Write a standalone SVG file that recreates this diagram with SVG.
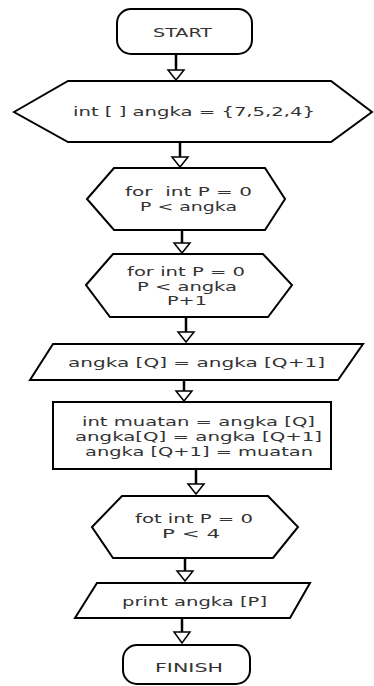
<svg xmlns="http://www.w3.org/2000/svg" width="374" height="686" viewBox="0 0 374 686">
<style>
.s{fill:#fff;stroke:#000;stroke-width:2}
.t{font-family:"DejaVu Sans",Verdana,sans-serif;font-size:12px;fill:#333;text-anchor:middle}
.c{stroke:#000;stroke-width:2.5;fill:none}
.h{fill:#fff;stroke:#000;stroke-width:1.5}
</style>
<rect width="374" height="686" fill="#fff"/>
<g id="connectors">
<line class="c" x1="176" y1="54" x2="176" y2="70"/><polygon class="h" points="168,70 184,70 176,80"/>
<line class="c" x1="180" y1="142" x2="180" y2="157"/><polygon class="h" points="172,157 188,157 180,167"/>
<line class="c" x1="182" y1="230" x2="182" y2="243"/><polygon class="h" points="174,243 190,243 182,253"/>
<line class="c" x1="186" y1="317" x2="186" y2="332"/><polygon class="h" points="178,332 194,332 186,342"/>
<line class="c" x1="184" y1="380" x2="184" y2="391"/><polygon class="h" points="176,391 192,391 184,401"/>
<line class="c" x1="196" y1="469" x2="196" y2="484"/><polygon class="h" points="188,484 204,484 196,494"/>
<line class="c" x1="185" y1="558" x2="185" y2="571"/><polygon class="h" points="177,571 193,571 185,581"/>
<line class="c" x1="182" y1="618" x2="182" y2="632"/><polygon class="h" points="174,632 190,632 182,643"/>
</g>
<g id="start"><rect class="s" x="117" y="9" width="135" height="45" rx="14"/><text class="t" x="182.5" y="37" textLength="59" lengthAdjust="spacingAndGlyphs">START</text></g>
<g id="init"><polygon class="s" points="14,112 68,81 331,81 372,112 331,142 68,142"/><text class="t" x="194" y="116" textLength="242" lengthAdjust="spacingAndGlyphs">int [ ] angka = {7,5,2,4}</text></g>
<g id="loop1"><polygon class="s" points="87,199 114,168 265,168 285,199 265,230 114,230"/><text class="t" x="188.5" y="196" textLength="127" lengthAdjust="spacingAndGlyphs" xml:space="preserve">for  int P = 0</text><text class="t" x="188.5" y="211" textLength="97" lengthAdjust="spacingAndGlyphs">P &lt; angka</text></g>
<g id="loop2"><polygon class="s" points="86,285 113,254 263,254 292,285 268,317 110,317"/><text class="t" x="186" y="276" textLength="118" lengthAdjust="spacingAndGlyphs">for int P = 0</text><text class="t" x="187" y="291" textLength="100" lengthAdjust="spacingAndGlyphs">P &lt; angka</text><text class="t" x="187" y="305" textLength="40" lengthAdjust="spacingAndGlyphs">P+1</text></g>
<g id="compare"><polygon class="s" points="53,344 363,344 338,380 30,380"/><text class="t" x="196.5" y="367" textLength="257" lengthAdjust="spacingAndGlyphs">angka [Q] = angka [Q+1]</text></g>
<g id="swap"><rect class="s" x="53" y="402" width="278" height="67"/><text class="t" x="198.5" y="426" textLength="233" lengthAdjust="spacingAndGlyphs">int muatan = angka [Q]</text><text class="t" x="198.5" y="441" textLength="247" lengthAdjust="spacingAndGlyphs">angka[Q] = angka [Q+1]</text><text class="t" x="199" y="456" textLength="228" lengthAdjust="spacingAndGlyphs">angka [Q+1] = muatan</text></g>
<g id="loop3"><polygon class="s" points="92,527 122,496 268,496 298,527 273,558 113,558"/><text class="t" x="194" y="523" textLength="118" lengthAdjust="spacingAndGlyphs">fot int P = 0</text><text class="t" x="191" y="538" textLength="58" lengthAdjust="spacingAndGlyphs">P &lt; 4</text></g>
<g id="print"><polygon class="s" points="97,583 310,583 290,618 75,618"/><text class="t" x="194.5" y="606" textLength="145" lengthAdjust="spacingAndGlyphs">print angka [P]</text></g>
<g id="finish"><rect class="s" x="123" y="645" width="127" height="39" rx="14"/><text class="t" x="189" y="672" textLength="68" lengthAdjust="spacingAndGlyphs">FINISH</text></g>
</svg>
